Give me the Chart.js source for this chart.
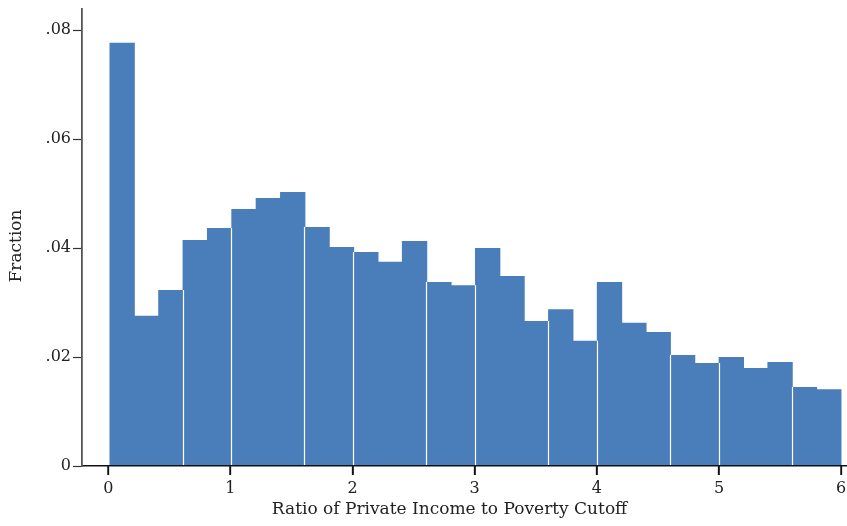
<!DOCTYPE html>
<html>
<head>
<meta charset="utf-8">
<script src="https://cdn.jsdelivr.net/npm/chart.js@4.4.1/dist/chart.umd.min.js"></script>
<style>
  html, body { margin: 0; padding: 0; background: #ffffff; }
  #wrap { width: 847px; height: 526px; position: relative; }
</style>
</head>
<body>
<div id="wrap"><canvas id="hist"></canvas></div>
<script>
// Histogram bins: 30 bins of equal width covering the income ratio range
const binStart = 0.014;
const binWidth = 0.1995;
const fractions = [
  0.0777, 0.0276, 0.0323, 0.0415, 0.0437, 0.0472, 0.0492, 0.0503, 0.0439, 0.0402,
  0.0393, 0.0375, 0.0413, 0.0338, 0.0332, 0.0400, 0.0349, 0.0266, 0.0288, 0.0230,
  0.0338, 0.0263, 0.0246, 0.0204, 0.0189, 0.0200, 0.0180, 0.0191, 0.0145, 0.0141
];
const xTickValues = [0, 1, 2, 3, 4, 5, 6];
const yTickValues = [0, 0.02, 0.04, 0.06, 0.08];
const xTitle = 'Ratio of Private Income to Poverty Cutoff';
const yTitle = 'Fraction';

const binCenters = fractions.map((_, i) => binStart + binWidth * (i + 0.5));
const points = fractions.map((v, i) => ({ x: binCenters[i], y: v }));

// bars whose left edge shows a thin white seam
const seamBars = [3, 5, 8, 10, 13, 15, 18, 20, 23, 25, 28];

const FONT = '"DejaVu Serif", "Liberation Serif", serif';
const INK = '#222222';

function fmtY(v) {
  if (Math.abs(v) < 1e-9) return '0';
  return v.toFixed(2).replace(/^0/, '');
}

// white seam between a bar and its left neighbour, up to the lower of the two tops
const seams = {
  id: 'seams',
  afterDatasetsDraw(chart) {
    const bars = chart.getDatasetMeta(0).data;
    const ctx = chart.ctx;
    ctx.save();
    ctx.strokeStyle = '#ffffff';
    ctx.lineWidth = 1.2;
    seamBars.forEach((i) => {
      const b = bars[i], p = bars[i - 1];
      const xEdge = Math.round(b.x - b.width / 2) + 0.5;
      const top = Math.max(b.y, p.y);
      ctx.beginPath();
      ctx.moveTo(xEdge, b.base);
      ctx.lineTo(xEdge, top);
      ctx.stroke();
    });
    ctx.restore();
  }
};

// outward tick marks on the x axis at the labelled values
const xTickMarks = {
  id: 'xTickMarks',
  afterDraw(chart) {
    const sx = chart.scales.x;
    const y0 = chart.chartArea.bottom;
    const ctx = chart.ctx;
    ctx.save();
    ctx.fillStyle = '#111111';
    xTickValues.forEach((v) => {
      const px = Math.round(sx.getPixelForValue(v));
      ctx.fillRect(px - 0.7, y0, 1.5, 9);
    });
    ctx.restore();
  }
};

// axis titles placed like the plot region's own labels
const axisTitles = {
  id: 'axisTitles',
  afterDraw(chart) {
    const ctx = chart.ctx;
    ctx.save();
    ctx.fillStyle = INK;
    ctx.font = '17px ' + FONT;
    ctx.textAlign = 'center';
    ctx.textBaseline = 'middle';
    ctx.fillText(xTitle, 449.5, 510);
    ctx.translate(17, 246);
    ctx.rotate(-Math.PI / 2);
    ctx.fillText(yTitle, 0, 0);
    ctx.restore();
  }
};

new Chart(document.getElementById('hist'), {
  type: 'bar',
  data: {
    datasets: [{
      data: points,
      backgroundColor: '#4a7ebb',
      borderWidth: 0,
      barPercentage: 1.04,
      categoryPercentage: 1
    }]
  },
  options: {
    responsive: true,
    maintainAspectRatio: false,
    animation: false,
    layout: { padding: { top: 9, right: 1, left: 0, bottom: 0 } },
    plugins: {
      legend: { display: false },
      tooltip: { enabled: false }
    },
    scales: {
      x: {
        type: 'linear',
        offset: false,
        min: -0.215,
        max: 6.04,
        afterBuildTicks: (s) => { s.ticks = xTickValues.map(v => ({ value: v })); },
        afterFit: (s) => { s.height = 60; s.paddingLeft = 0; s.paddingRight = 0; },
        ticks: {
          color: INK,
          font: { family: FONT, size: 16 },
          padding: 4,
          maxRotation: 0,
          callback: (v) => String(v)
        },
        grid: {
          z: 1,
          offset: false,
          drawOnChartArea: false,
          drawTicks: true,
          tickLength: 9,
          tickColor: '#111111',
          tickWidth: 1.3
        },
        border: { z: 1, display: true, color: '#111111', width: 1.5 }
      },
      y: {
        type: 'linear',
        min: 0,
        max: 0.0839,
        afterBuildTicks: (s) => { s.ticks = yTickValues.map(v => ({ value: v })); },
        afterFit: (s) => { s.width = 82; s.paddingTop = 0; s.paddingBottom = 0; },
        ticks: {
          color: INK,
          font: { family: FONT, size: 16 },
          padding: 2,
          callback: (v) => fmtY(v)
        },
        grid: {
          z: 1,
          drawOnChartArea: false,
          drawTicks: true,
          tickLength: 9,
          tickColor: '#333333',
          tickWidth: 1.2
        },
        border: { z: 1, display: true, color: '#555555', width: 1.8 }
      }
    }
  },
  plugins: [seams, xTickMarks, axisTitles]
});
</script>
</body>
</html>
